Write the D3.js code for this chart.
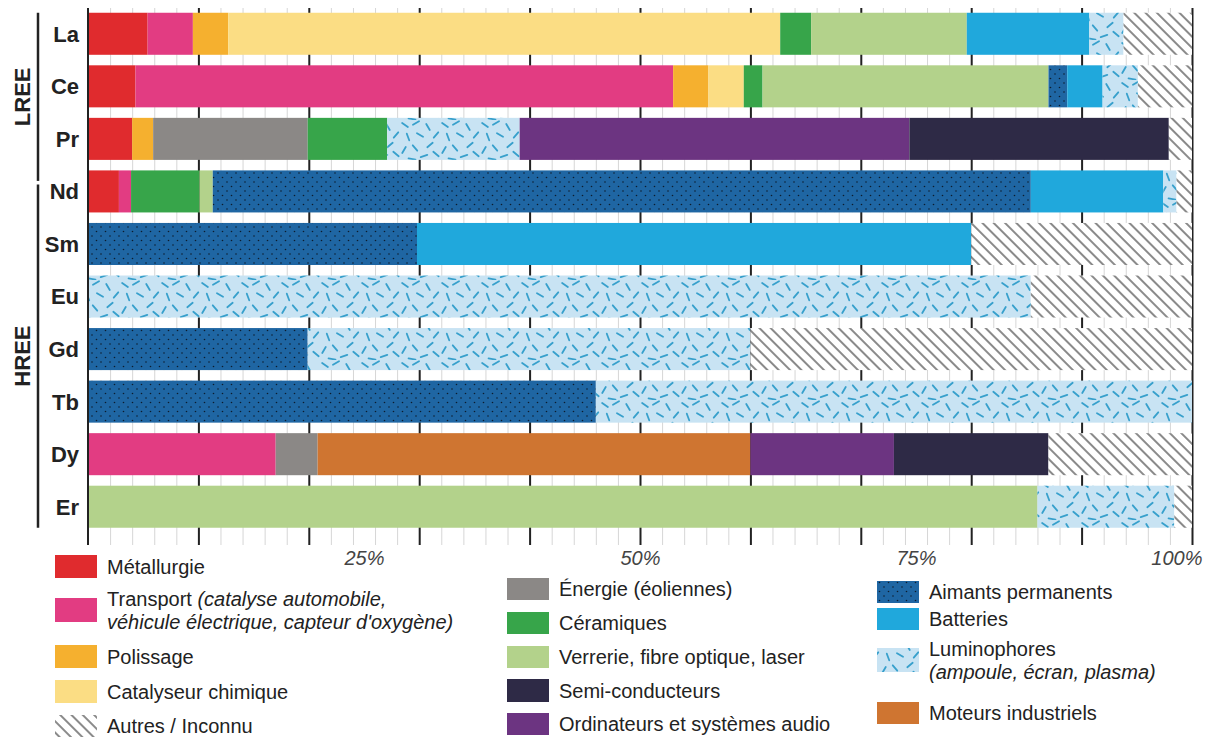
<!DOCTYPE html>
<html>
<head>
<meta charset="utf-8">
<script src="https://cdn.jsdelivr.net/npm/d3@7"></script>
<style>
  body { margin: 0; background: #fff; }
  text { font-family: "Liberation Sans", Arial, sans-serif; }
</style>
</head>
<body>
<svg id="chart"></svg>
<script>
// elements (rows) and groups
const elements = ['La', 'Ce', 'Pr', 'Nd', 'Sm', 'Eu', 'Gd', 'Tb', 'Dy', 'Er'];
const groups = [
    {name: 'LREE', from: 'La', to: 'Pr'},
    {name: 'HREE', from: 'Nd', to: 'Er'}
];

// stacking order of the uses
const uses = ['met', 'transport', 'polissage', 'catalyseur', 'energie', 'ceramiques', 'verrerie',
    'aimants', 'batteries', 'lumino', 'moteurs', 'ordinateurs', 'semi', 'autres'];

// shares in % per element, same order as elements
const met         = [5.4, 4.3, 4.0, 2.8, 0, 0, 0, 0, 0, 0];
const transport   = [4.1, 48.7, 0, 1.1, 0, 0, 0, 0, 17.0, 0];
const polissage   = [3.2, 3.2, 1.9, 0, 0, 0, 0, 0, 0, 0];
const catalyseur  = [50.0, 3.2, 0, 0, 0, 0, 0, 0, 0, 0];
const energie     = [0, 0, 14.0, 0, 0, 0, 0, 0, 3.8, 0];
const ceramiques  = [2.8, 1.7, 7.2, 6.2, 0, 0, 0, 0, 0, 0];
const verrerie    = [14.1, 25.9, 0, 1.2, 0, 0, 0, 0, 0, 86.0];
const aimants     = [0, 1.7, 0, 74.1, 29.8, 0, 19.9, 46.0, 0, 0];
const batteries   = [11.1, 3.2, 0, 12.0, 50.2, 0, 0, 0, 0, 0];
const lumino      = [3.1, 3.2, 12.0, 1.2, 0, 85.4, 40.1, 54.0, 0, 12.4];
const moteurs     = [0, 0, 0, 0, 0, 0, 0, 0, 39.2, 0];
const ordinateurs = [0, 0, 35.3, 0, 0, 0, 0, 0, 13.0, 0];
const semi        = [0, 0, 23.5, 0, 0, 0, 0, 0, 14.0, 0];
const autres      = [6.2, 4.9, 2.1, 1.4, 20.0, 14.6, 40.0, 0, 13.0, 1.6];

const tickLabels = [25, 50, 75, 100];

const series = {met, transport, polissage, catalyseur, energie, ceramiques, verrerie,
    aimants, batteries, lumino, moteurs, ordinateurs, semi, autres};

const fills = {
    met: '#e02b2e', transport: '#e23c82', polissage: '#f5b02f', catalyseur: '#fbdd84',
    energie: '#8b8886', ceramiques: '#37a54a', verrerie: '#b3d28b', aimants: 'url(#p-aimants)',
    batteries: '#20a8dc', lumino: 'url(#p-lumino)', moteurs: '#cf7531', ordinateurs: '#6c3481',
    semi: '#2e2a46', autres: 'url(#p-hatch)'
};

const width = 1208, height = 742;
const svg = d3.select('#chart').attr('width', width).attr('height', height);

// ---- patterns
const defs = svg.append('defs');

const pA = defs.append('pattern').attr('id', 'p-aimants')
    .attr('patternUnits', 'userSpaceOnUse').attr('width', 9).attr('height', 9);
pA.append('rect').attr('width', 9).attr('height', 9).attr('fill', '#1f66a3');
pA.append('circle').attr('cx', 2).attr('cy', 2).attr('r', 0.8).attr('fill', '#0c1c2e');
pA.append('circle').attr('cx', 6.5).attr('cy', 6.5).attr('r', 0.8).attr('fill', '#0c1c2e');

const pL = defs.append('pattern').attr('id', 'p-lumino')
    .attr('patternUnits', 'userSpaceOnUse').attr('width', 40).attr('height', 40);
pL.append('rect').attr('width', 40).attr('height', 40).attr('fill', '#c8e3f3');
const dashes = [[5, 5, 35], [16, 3, -30], [28, 7, 60], [36, 15, -50], [8, 17, 70],
    [20, 15, 30], [30, 25, -40], [4, 30, -60], [15, 28, 50], [24, 36, -20], [36, 34, 40], [12, 39, 10]];
pL.selectAll('line').data(dashes).join('line')
    .attr('x1', -3.5).attr('x2', 3.5).attr('y1', 0).attr('y2', 0)
    .attr('transform', d => `translate(${d[0]},${d[1]}) rotate(${d[2]})`)
    .attr('stroke', '#37a0cc').attr('stroke-width', 1.8).attr('stroke-linecap', 'round');

const pH = defs.append('pattern').attr('id', 'p-hatch')
    .attr('patternUnits', 'userSpaceOnUse').attr('width', 8).attr('height', 8)
    .attr('patternTransform', 'rotate(-45)');
pH.append('rect').attr('width', 8).attr('height', 8).attr('fill', '#fff');
pH.append('line').attr('x1', 1).attr('x2', 1).attr('y1', 0).attr('y2', 8)
    .attr('stroke', '#2a2a2a').attr('stroke-width', 1.1);

// ---- scales
const x = d3.scaleLinear().domain([0, 100]).range([88, 1192]);
const y = d3.scaleBand().domain(elements).range([7.5, 533]).paddingInner(0.2).paddingOuter(0.1);

// grid: minor every 2%, major every 10%
const minorAxis = d3.axisBottom(x).tickValues(d3.range(0, 101, 2)).tickSize(-(545 - 8)).tickFormat('');
svg.append('g').attr('transform', 'translate(0,545)').call(minorAxis)
    .call(g => g.select('.domain').remove())
    .call(g => g.selectAll('line').attr('stroke', '#d6d6d6').attr('stroke-width', 1));

const majorAxis = d3.axisBottom(x).tickValues(d3.range(10, 101, 10)).tickSize(-(545 - 8)).tickFormat('');
svg.append('g').attr('transform', 'translate(0,545)').call(majorAxis)
    .call(g => g.select('.domain').remove())
    .call(g => g.selectAll('line').attr('stroke', '#222').attr('stroke-width', 2));

// ---- stacked bars
const table = elements.map((el, i) => {
    const row = {el};
    uses.forEach(k => row[k] = series[k][i]);
    return row;
});
const stacked = d3.stack().keys(uses)(table);

svg.append('g').selectAll('g')
    .data(stacked)
    .join('g')
    .attr('fill', d => fills[d.key])
    .selectAll('rect')
    .data(d => d.filter(s => s[1] - s[0] > 0))
    .join('rect')
    .attr('x', d => x(d[0]))
    .attr('y', d => y(d.data.el))
    .attr('width', d => x(d[1]) - x(d[0]))
    .attr('height', y.bandwidth());

// left axis line
svg.append('line').attr('x1', 88).attr('x2', 88).attr('y1', 8).attr('y2', 545)
    .attr('stroke', '#222').attr('stroke-width', 2);

// element labels
svg.append('g').selectAll('text')
    .data(elements).join('text')
    .attr('x', 79)
    .attr('y', d => y(d) + y.bandwidth() / 2)
    .attr('dy', '0.36em')
    .attr('text-anchor', 'end')
    .attr('font-size', 22).attr('font-weight', 'bold').attr('fill', '#222')
    .text(d => d);

// group brackets
groups.forEach((gr, i) => {
    const y0 = i === 0 ? y(gr.from) : y(gr.from) + 14;
    const y1 = i === 0 ? y(gr.to) + y.bandwidth() + 21 : y(gr.to) + y.bandwidth();
    svg.append('line').attr('x1', 38).attr('x2', 38).attr('y1', y0).attr('y2', y1)
        .attr('stroke', '#222').attr('stroke-width', 2.5);
    svg.append('text')
        .attr('transform', `translate(30,${(y0 + y1) / 2}) rotate(-90)`)
        .attr('text-anchor', 'middle')
        .attr('font-size', 22).attr('font-weight', 'bold').attr('fill', '#222')
        .text(gr.name);
});

// percentage labels
const labelAxis = d3.axisBottom(x).tickValues(tickLabels).tickSize(0).tickFormat(d => d + '%');
svg.append('g').attr('transform', 'translate(0,548)').call(labelAxis)
    .call(g => g.select('.domain').remove())
    .call(g => g.selectAll('text')
        .attr('font-size', 20).attr('font-style', 'italic').attr('fill', '#444')
        .attr('font-family', '"Liberation Sans", Arial, sans-serif')
        .attr('text-anchor', d => d === 100 ? 'end' : 'middle')
        .attr('dx', d => d === 100 ? 10 : 0));

// ---- legend
const legend = [
    {key: 'met', col: 0, top: 555, h: 23, lines: [['Métallurgie']]},
    {key: 'transport', col: 0, top: 598, h: 24, lines: [['Transport ', '(catalyse automobile,'], ['', 'véhicule électrique, capteur d\'oxygène)']]},
    {key: 'polissage', col: 0, top: 645, h: 23, lines: [['Polissage']]},
    {key: 'catalyseur', col: 0, top: 680, h: 23, lines: [['Catalyseur chimique']]},
    {key: 'autres', col: 0, top: 715, h: 22, lines: [['Autres / Inconnu']]},
    {key: 'energie', col: 1, top: 578, h: 22, lines: [['Énergie (éoliennes)']]},
    {key: 'ceramiques', col: 1, top: 612, h: 22, lines: [['Céramiques']]},
    {key: 'verrerie', col: 1, top: 646, h: 22, lines: [['Verrerie, fibre optique, laser']]},
    {key: 'semi', col: 1, top: 679, h: 23, lines: [['Semi-conducteurs']]},
    {key: 'ordinateurs', col: 1, top: 713, h: 22, lines: [['Ordinateurs et systèmes audio']]},
    {key: 'aimants', col: 2, top: 581, h: 22, lines: [['Aimants permanents']]},
    {key: 'batteries', col: 2, top: 608, h: 22, lines: [['Batteries']]},
    {key: 'lumino', col: 2, top: 648, h: 24, lines: [['Luminophores'], ['', '(ampoule, écran, plasma)']]},
    {key: 'moteurs', col: 2, top: 702, h: 22, lines: [['Moteurs industriels']]}
];
const colX = [55, 507, 877];

const leg = svg.append('g');
legend.forEach(item => {
    const sx = colX[item.col];
    leg.append('rect').attr('x', sx).attr('y', item.top)
        .attr('width', 42).attr('height', item.h)
        .attr('fill', fills[item.key]);
    const n = item.lines.length;
    const cy = item.top + item.h / 2;
    item.lines.forEach((ln, j) => {
        const ty = n === 1 ? cy : cy + (j - 0.5) * 23;
        const t = leg.append('text').attr('x', sx + 52).attr('y', ty).attr('dy', '0.35em')
            .attr('font-size', 20).attr('fill', '#222');
        t.append('tspan').text(ln[0]);
        if (ln[1]) t.append('tspan').attr('font-style', 'italic').text(ln[1]);
    });
});
</script>
</body>
</html>
